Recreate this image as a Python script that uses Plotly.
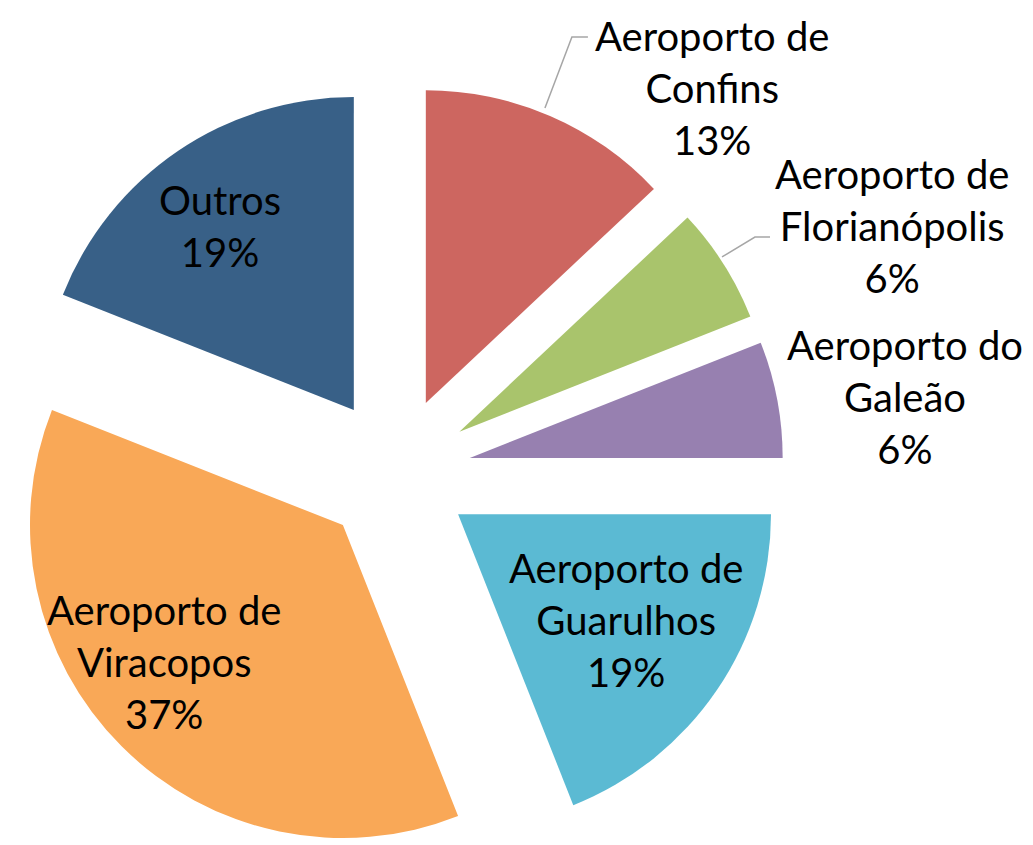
import plotly.graph_objects as go

# shares of cargo per airport (clockwise from 12 o'clock)
airports = ["Aeroporto de<br>Confins", "Aeroporto de<br>Florianópolis", "Aeroporto do<br>Galeão",
            "Aeroporto de<br>Guarulhos", "Aeroporto de<br>Viracopos", "Outros"]
shares = [13, 6, 6, 19, 37, 19]
colors = ["#CD6660", "#A9C46C", "#9780B0", "#5BBAD3", "#F9A857", "#386087"]
# label placement (paper coords), small slices are labelled outside the pie
label_xy = [(0.6815, 0.9070), (0.8558, 0.7465), (0.8683, 0.5477),
            (0.5983, 0.2884), (0.1510, 0.2395), (0.2052, 0.7465)]

total = sum(shares)
font = dict(family="Lato", size=40, color="black")

fig = go.Figure()
fig.add_trace(
    go.Pie(
        labels=airports,
        values=shares,
        sort=False,
        direction="clockwise",
        rotation=0,
        pull=0.24,
        marker=dict(colors=colors, line=dict(width=0)),
        textinfo="none",
        domain=dict(x=[0.0, 0.7512], y=[0.00698, 0.91395]),
        showlegend=False,
    )
)

for i, (x, y) in enumerate(label_xy):
    fig.add_annotation(
        x=x, y=y, xref="paper", yref="paper",
        xanchor="center", yanchor="middle",
        text=f"{airports[i]}<br>{round(100 * shares[i] / total)}%",
        showarrow=False, font=font, align="center",
    )

# leader lines for the outside labels
grey = dict(color="#A6A6A6", width=1.5)
fig.add_shape(type="path", xref="paper", yref="paper", line=grey,
              path="M 0.5198 0.8837 L 0.5459 0.9663 L 0.5614 0.9663")
fig.add_shape(type="path", xref="paper", yref="paper", line=grey,
              path="M 0.6912 0.7105 L 0.7231 0.7337 L 0.7377 0.7337")

fig.update_layout(
    width=1033,
    height=860,
    margin=dict(l=0, r=0, t=0, b=0),
    paper_bgcolor="white",
    plot_bgcolor="white",
)

fig.write_html("out.html")
